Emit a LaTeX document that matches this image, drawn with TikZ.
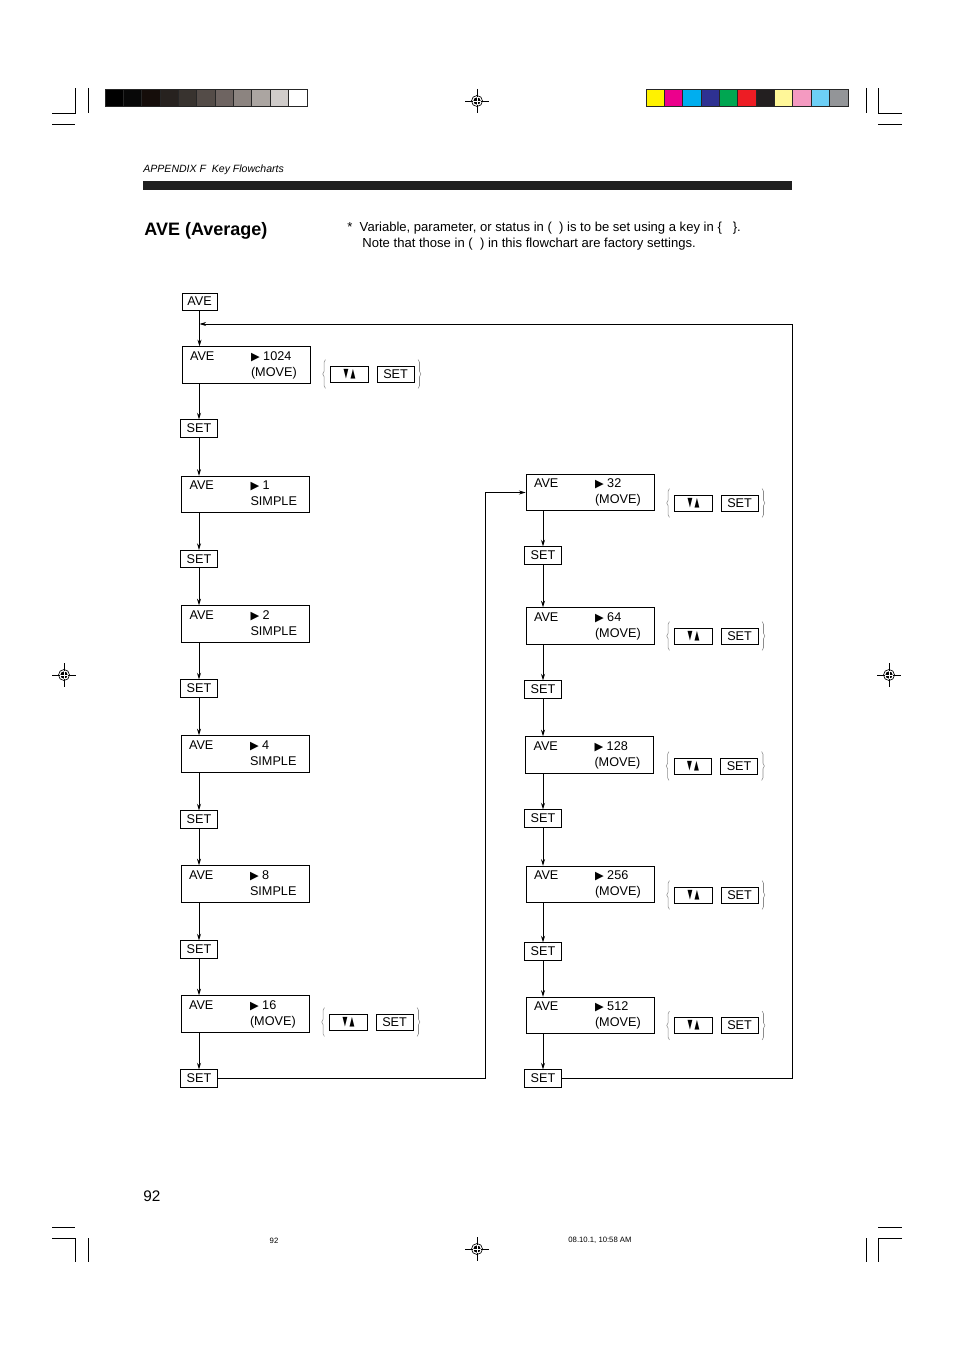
\documentclass[tikz,border=0pt]{standalone}
\usepackage{fontspec}
\setmainfont{Liberation Sans}
\newfontfamily\shapefont{DejaVu Sans}
\usepackage{tikz}
\usetikzlibrary{arrows.meta, positioning, calc, decorations.pathreplacing}

\newcommand{\playmark}{{\shapefont\fontsize{8.5}{8.5}\selectfont ▶}}
\newcommand{\updown}{{\shapefont\fontsize{9.5}{9.5}\selectfont\scalebox{0.5}[1]{▼}\,\scalebox{0.5}[1]{▲}}}
\newcommand{\avetext}[2]{\begin{tabular}{@{}p{45.75pt}@{}p{38.25pt}@{}}AVE & \playmark\ #1\\ & #2\end{tabular}}

\begin{document}
\begin{tikzpicture}[x=0.75pt, y=-0.75pt, >={Stealth[length=5pt,width=3pt]}, line width=0.6pt,
  dispbox/.style={draw, minimum width=96pt, minimum height=27.4pt, inner sep=0pt, font=\fontsize{9.5}{12}\selectfont},
  setbox/.style={draw, minimum width=27.5pt, minimum height=13pt, inner sep=0pt, font=\fontsize{9.5}{12}\selectfont},
  keybox/.style={setbox, minimum width=28pt, minimum height=12pt},
  keybrace/.style={draw=black!45, line width=0.4pt, decorate, decoration={brace, amplitude=2pt}},
  note/.style={anchor=west, inner sep=0pt, font=\fontsize{9.8}{12}\selectfont}]
  \fill[white] (0,0) rectangle (954,1351);

  % Crop marks
  \draw (52,113) -- (75,113) -- (75,88);
  \draw (88,88) -- (88,113);
  \draw (52,124) -- (75,124);
  \draw (902,113) -- (878,113) -- (878,88);
  \draw (866,88) -- (866,113);
  \draw (878,124) -- (902,124);
  \draw (52,1238) -- (75,1238) -- (75,1262);
  \draw (88,1238) -- (88,1262);
  \draw (52,1227) -- (75,1227);
  \draw (902,1238) -- (878,1238) -- (878,1262);
  \draw (866,1238) -- (866,1262);
  \draw (878,1227) -- (902,1227);

  % Gray and colour strips
  \foreach \h [count=\i from 0] in {000000,080808,150D0A,27221F,38332F,544C48,6E6461,8C8480,ABA5A1,D0CCCA,FFFFFF} {
    \definecolor{patch}{HTML}{\h}
    \filldraw[fill=patch, draw=black!85] (105+\i*18.36,89) rectangle +(18.36,17);
  }
  \foreach \h [count=\i from 0] in {FFF200,EC008C,00AEEF,2E3192,00A651,ED1C24,231F20,FFF799,F49AC1,6DCFF6,939598} {
    \definecolor{patch}{HTML}{\h}
    \filldraw[fill=patch, draw=black!85] (646+\i*18.36,89) rectangle +(18.36,17);
  }

  % Registration marks
  \foreach \p in {(477,101), (64,675), (889,675), (477,1249)} {
    \draw[line width=0.4pt] \p +(-12,0) -- +(12,0) \p +(0,-12) -- +(0,12);
    \draw[line width=0.5pt] \p circle (5.5);
    \fill \p circle (3.6);
    \draw[white, line width=0.5pt] \p +(-3.6,0) -- +(3.6,0) \p +(0,-3.6) -- +(0,3.6);
  }

  % Page head
  \node[anchor=west, inner sep=0pt, font=\fontsize{7.9}{9}\selectfont\itshape] (head) at (143,170) {APPENDIX F\ \ Key Flowcharts};
  \fill[black!88] (143,181) rectangle (792,190);
  \node[anchor=west, inner sep=0pt, font=\fontsize{13.5}{16}\selectfont\bfseries] (title) at (144,231) {AVE (Average)};
  \node[note] (note1) at (347,228.5) {*\ \ Variable, parameter, or status in (\ \ ) is to be set using a key in \{\ \ \ \}.};
  \node[note] (note2) at (362,244.5) {Note that those in (\ \ ) in this flowchart are factory settings.};

  % Left column
  \node[setbox, minimum width=26.3pt, minimum height=12.8pt] (ave) at (199.5,301.5) {AVE};
  \node[dispbox] (b1024) at (246,365) {\avetext{1024}{(MOVE)}};
  \node[setbox] (s1024) at (199,428.5) {SET};
  \node[dispbox] (b1) at (245.5,494.5) {\avetext{1}{SIMPLE}};
  \node[setbox] (s1) at (199,559) {SET};
  \node[dispbox] (b2) at (245.5,624) {\avetext{2}{SIMPLE}};
  \node[setbox] (s2) at (199,688.5) {SET};
  \node[dispbox] (b4) at (245,754) {\avetext{4}{SIMPLE}};
  \node[setbox] (s4) at (199,819.5) {SET};
  \node[dispbox] (b8) at (245,884) {\avetext{8}{SIMPLE}};
  \node[setbox] (s8) at (199,949.5) {SET};
  \node[dispbox] (b16) at (245,1014) {\avetext{16}{(MOVE)}};
  \node[setbox] (s16) at (199,1078.5) {SET};

  % Right column
  \node[dispbox] (b32) at (590,492.5) {\avetext{32}{(MOVE)}};
  \node[setbox] (s32) at (543,555.5) {SET};
  \node[dispbox] (b64) at (590,626) {\avetext{64}{(MOVE)}};
  \node[setbox] (s64) at (543,689.5) {SET};
  \node[dispbox] (b128) at (589.5,755) {\avetext{128}{(MOVE)}};
  \node[setbox] (s128) at (543,818.5) {SET};
  \node[dispbox] (b256) at (590,884.5) {\avetext{256}{(MOVE)}};
  \node[setbox] (s256) at (543,951.5) {SET};
  \node[dispbox] (b512) at (590,1015.5) {\avetext{512}{(MOVE)}};
  \node[setbox] (s512) at (543,1078.5) {SET};

  % Keys beside the boxes
  \foreach \val/\dy in {1024/9, 16/8, 32/10.5, 64/10, 128/11, 256/10.5, 512/10} {
    \node[keybox, anchor=west] (ud\val) at ([shift={(20,\dy)}]b\val.east) {\updown};
    \node[keybox, right=6pt of ud\val] (ks\val) {SET};
    \draw[keybrace] ([shift={(-5,6)}]ud\val.south west) -- ([shift={(-5,-6)}]ud\val.north west);
    \draw[keybrace] ([shift={(3.5,-6)}]ks\val.north east) -- ([shift={(3.5,6)}]ks\val.south east);
  }

  % Connectors
  \draw[->] (ave) -- (ave |- b1024.north);
  \foreach \val/\nxt in {1024/1, 1/2, 2/4, 4/8, 8/16, 32/64, 64/128, 128/256, 256/512} {
    \draw[->] (b\val.south -| s\val) -- (s\val);
    \draw[->] (s\val) -- (s\val |- b\nxt.north);
  }
  \draw[->] (b16.south -| s16) -- (s16);
  \draw[->] (b512.south -| s512) -- (s512);
  \draw[->] (s16.east) -| ([shift={(-40,0)}]b32.west) -- (b32.west);
  \coordinate (back) at (792,324);
  \draw[->] (s512.east) -| (back) -- (ave |- back);

  % Page foot
  \node[anchor=west, inner sep=0pt, font=\fontsize{11.5}{13}\selectfont] (page) at (143,1196) {92};
  \node[inner sep=0pt, font=\fontsize{5.8}{7}\selectfont] (slug) at (274,1240.5) {92};
  \node[anchor=west, inner sep=0pt, font=\fontsize{5.8}{7}\selectfont] (stamp) at (568,1240.5) {08.10.1, 10:58 AM};
\end{tikzpicture}
\end{document}
